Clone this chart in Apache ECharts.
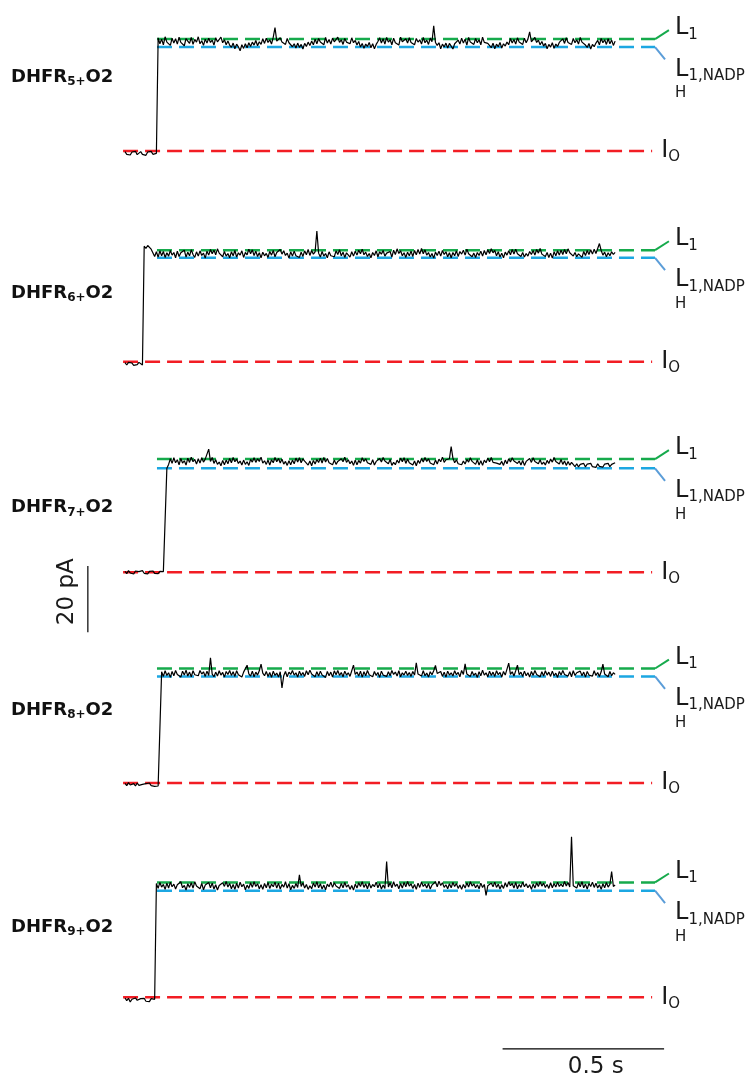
<!DOCTYPE html>
<html><head><meta charset="utf-8">
<script src="https://cdn.jsdelivr.net/npm/echarts@6/dist/echarts.min.js"></script>
<style>html,body{margin:0;padding:0;background:#fff}#c{width:749px;height:1078px}</style>
</head><body><div id="c"></div>
<script>
// ---------------- DATA ----------------
const panelNames = ['5', '6', '7', '8', '9'];          // DHFRn+O2
const sampleStep = 0.0054;                             // s between samples
// current traces (pA, relative to open-pore I0)
const trace5 = [-0.2,-1.0,-0.4,-1.2,-0.3,-0.9,-0.1,-1.1,-0.6,-0.2,-1.0,-0.5,-1.3,-0.3,-0.8,-0.1,-1.0,-0.4,-0.7,
 34.2,32.4,33.8,32.1,34.5,32.9,33.4,31.9,34.1,32.6, 33.9,32.3,34.4,32.8,33.1,31.8,34.0,33.2,32.5,34.3,
 32.2,33.7,32.9,34.5,32.4,33.3,31.9,33.8,32.6,34.1, 32.8,33.5,32.0,34.2,33.0,32.4,34.4,32.7,33.6,32.1,
 33.2,32.0,31.3,32.6,30.9,32.3,31.5,30.3,32.1,31.0, 32.4,31.2,32.7,31.6,32.9,32.0,33.4,31.8,33.0,32.2,
 33.9,32.5,34.1,32.8,33.6,32.3,34.4,37.3,33.2,32.6, 34.2,32.9,33.5,32.2,34.0,32.7,33.3,31.5,32.4,31.1,
 32.6,31.3,32.2,30.8,32.5,31.6,32.9,31.9,33.2,32.1, 33.8,32.4,34.0,32.9,33.3,32.1,34.3,32.6,33.7,32.3,
 34.1,33.0,32.5,34.4,32.8,33.6,32.2,34.0,32.9,33.5, 32.4,34.2,32.7,33.4,32.0,33.1,31.4,32.5,31.0,32.3,
 31.6,32.8,31.2,32.4,30.9,32.2,33.1,34.2,32.6,33.9, 32.3,34.3,32.9,33.6,32.1,34.1,32.7,33.3,32.0,34.4,
 33.0,32.4,33.9,32.6,34.2,32.8,33.4,32.1,34.0,32.9, 33.6,32.3,34.3,32.7,33.5,32.2,34.1,33.0,37.8,32.8,
 31.9,32.7,30.9,32.3,31.4,32.6,31.1,32.5,31.7,30.8, 32.4,31.9,33.5,32.3,34.1,32.6,33.8,32.0,34.3,32.9,
 33.4,32.2,34.0,32.7,33.6,32.1,34.4,32.8,33.3,32.5, 32.0,31.2,32.6,30.9,32.3,31.5,32.8,31.1,32.4,31.7,
 32.9,32.1,34.0,32.6,33.7,32.3,34.2,32.9,33.4,32.2, 34.1,32.7,33.8,36.0,33.0,32.4,34.3,32.8,33.5,32.1,
 33.1,31.7,32.5,30.9,32.2,31.4,32.7,31.0,32.3,31.6, 32.8,32.4,33.9,32.5,34.2,32.8,33.4,32.2,34.0,32.7,
 33.6,32.3,34.3,32.9,33.2,32.0,31.3,32.5,30.8,32.2, 31.5,32.6,33.4,32.1,34.0,32.7,33.6,32.2,33.9,32.4,
 33.5,31.9,33.2];
const trace6 = [-0.3,-1.0,-0.2,-0.8,-0.4,-1.1,-0.5,-0.9,-0.2,-0.7,-1.0,
 34.9,34.2,35.1,34.5,34.0,33.4,31.8,33.2,31.6,33.5, 32.0,33.3,31.5,32.9,31.9,33.6,32.2,33.0,31.4,33.4,
 31.8,32.9,32.3,33.7,31.6,33.1,32.0,33.8,32.4,31.5, 33.2,31.9,33.5,32.1,32.8,31.3,33.4,32.2,33.9,32.6,
 33.7,32.3,34.1,32.8,33.0,31.7,33.3,31.9,32.7,31.4, 33.2,32.0,33.6,31.6,32.9,32.2,33.5,31.5,33.0,32.3,
 34.0,32.6,33.8,32.1,33.4,31.8,32.9,31.4,33.1,32.0, 32.7,31.5,33.3,32.2,33.6,31.7,33.0,32.4,33.9,32.5,
 33.5,32.1,32.8,31.3,33.2,31.9,33.4,32.0,32.6,31.5, 33.1,31.8,33.5,32.3,33.9,32.1,33.6,32.5,33.2,39.5,
 32.8,31.6,33.3,31.9,32.7,31.4,33.2,32.0,32.6,31.7, 33.5,32.4,33.8,32.0,33.1,31.5,32.9,32.3,31.6,33.2,
 31.9,33.4,32.2,33.7,32.6,34.0,32.3,33.1,31.8,32.7, 31.4,33.0,32.1,33.5,31.7,33.2,32.5,33.6,31.9,32.8,
 32.2,33.3,31.6,33.7,32.4,34.1,32.7,33.5,32.0,32.9, 31.5,33.1,32.0,33.4,31.8,33.6,32.3,33.9,32.5,34.2,
 32.6,33.8,32.2,33.0,31.6,32.7,31.3,33.1,32.1,33.4, 31.9,33.6,32.4,33.2,31.7,32.9,31.4,33.0,32.0,33.5,
 31.8,33.3,32.5,33.7,32.2,34.0,32.6,33.1,31.7,32.8, 31.5,33.0,32.1,33.4,31.9,33.6,32.3,33.8,32.7,34.1,
 32.9,33.6,32.0,33.2,31.6,32.8,31.4,33.1,32.2,33.5, 32.3,33.9,32.5,34.0,32.6,33.2,31.8,33.0,31.6,32.7,
 31.9,33.3,32.4,33.6,32.2,33.9,32.8,34.2,32.5,33.1, 31.8,33.0,31.5,32.8,31.3,33.2,32.0,33.5,32.2,33.7,
 32.4,33.9,32.6,34.1,32.9,33.3,31.9,33.0,31.7,32.6, 32.2,31.5,33.3,32.1,33.6,32.4,33.8,32.5,34.0,32.7,
 34.2,35.7,33.6,32.2,33.1,31.7,32.9,32.0,33.2,32.4, 33.0];
const trace7 = [0.3,-0.4,0.5,-0.2,0.1,-0.5,0.4,-0.1,0.2,-0.4,0.5,-0.3,0.0,-0.5,0.3,-0.2,0.4,-0.3,0.1,-0.4,0.3,-0.1,0.2,-0.3,
 31.4,32.6,34.3,32.9,34.6,33.1,34.0,32.5,34.4,33.0, 33.7,32.4,34.5,33.2,34.8,33.4,34.1,32.7,34.3,33.0,
 34.6,33.3,34.2,33.6,37.2,33.5,34.7,32.9,34.0,32.6, 33.3,32.2,33.8,32.5,33.9,32.8,34.4,33.1,34.7,33.4,
 34.2,32.9,33.6,32.4,33.9,32.6,33.4,32.3,34.1,33.3, 34.6,33.2,34.3,33.5,34.8,33.0,33.7,32.6,33.9,32.4,
 34.0,33.1,34.7,33.4,34.4,33.0,34.2,32.7,33.5,32.3, 33.7,32.5,33.9,32.8,34.5,33.3,34.6,33.1,34.3,33.6,
 33.4,32.4,33.6,32.2,33.8,32.7,34.1,33.2,34.5,33.0, 34.7,33.3,34.4,33.1,33.7,32.5,33.9,32.6,33.5,32.9,
 34.3,33.4,34.8,33.2,34.0,32.8,33.6,32.3,33.9,32.5, 33.8,33.0,34.6,33.5,34.3,33.1,33.4,32.6,34.0,32.4,
 33.5,32.9,34.4,33.3,34.7,33.6,33.7,32.8,34.1,32.3, 33.2,32.5,33.9,33.0,34.5,33.4,34.6,32.9,34.2,33.1,
 33.3,32.4,33.6,32.2,33.8,32.9,34.4,33.3,34.7,33.5, 34.3,33.0,33.6,32.5,33.9,32.7,34.2,33.4,34.8,33.2,
 34.0,33.5,34.3,38.0,34.5,33.1,34.0,32.8,33.4,32.5, 33.6,32.7,34.1,33.3,34.6,33.5,33.9,32.6,34.0,32.4,
 33.7,32.3,33.9,33.1,34.5,33.4,34.7,33.2,33.8,33.0, 33.4,32.6,33.5,32.3,33.9,32.8,34.3,33.3,34.6,33.6,
 33.9,32.9,33.6,32.4,33.8,32.3,33.5,33.0,34.4,33.2, 34.6,33.5,33.7,32.8,34.0,32.6,33.3,32.4,33.8,32.9,
 34.2,33.3,34.7,33.5,33.9,32.7,34.1,32.6,33.6,32.3, 33.5,32.4,33.2,32.7,31.9,32.8,31.8,32.6,32.0,32.9,
 31.8,32.7,32.1,32.9,31.9,32.5,31.7,32.8,32.0,32.6, 31.8,32.7,32.2,32.9,31.9,32.6,32.1,33.1];
const trace8 = [-0.1,-0.8,0.1,-0.6,-1.0,-0.2,-0.9,0.0,-0.7,-1.2,-0.4,-0.9,-0.2,-0.7,0.0,-0.8,-0.3,-1.0,-0.5,-0.9,-0.3,
 33.6,32.2,33.9,32.5,33.3,31.9,33.7,32.4,34.0,32.8, 33.4,32.0,33.8,32.6,34.1,32.3,33.5,32.1,33.9,32.7,
 33.2,32.4,34.0,32.9,33.6,32.2,33.8,32.5,37.8,32.9, 32.1,33.5,32.3,33.9,32.6,33.4,32.0,33.7,32.8,34.0,
 32.5,33.6,32.2,33.9,32.7,33.3,32.0,33.5,34.1,35.6, 33.0,32.3,33.8,32.1,33.5,32.6,33.9,35.9,33.2,32.4,
 33.7,32.2,33.4,31.9,33.8,32.5,33.2,32.0,33.6,28.7, 32.4,33.7,32.1,33.5,32.8,34.0,32.6,33.3,32.0,33.8,
 32.5,33.4,32.2,33.9,32.7,34.1,32.9,33.3,32.1,33.6, 32.3,33.8,32.6,33.2,31.9,33.7,32.4,33.5,32.0,33.9,
 32.7,34.0,32.5,33.4,32.1,33.8,32.6,33.3,32.2,33.9, 35.6,32.8,33.5,32.3,33.8,32.0,33.6,32.4,34.0,32.7,
 33.3,32.1,33.7,32.5,33.4,31.9,33.8,32.6,33.2,32.2, 33.6,32.4,34.0,32.8,33.5,32.3,33.9,32.1,33.3,32.6,
 33.8,32.5,33.4,32.2,33.7,32.6,36.3,32.9,33.5,32.3, 33.9,32.4,33.2,32.0,33.6,32.7,33.9,35.5,33.1,32.5,
 33.7,32.2,33.5,32.0,33.8,32.6,33.3,32.3,33.9,32.7, 33.4,32.1,34.0,32.8,36.0,32.9,33.5,32.2,33.7,32.5,
 33.2,31.9,33.6,32.4,34.1,32.6,33.3,32.1,33.8,32.5, 33.5,32.2,33.9,32.7,33.4,32.0,33.7,32.6,33.2,36.2,
 32.8,33.6,32.3,33.9,35.6,32.7,33.5,32.2,33.8,32.4, 33.3,32.0,33.7,32.5,34.0,32.8,33.4,32.1,33.6,32.3,
 33.9,32.6,33.5,32.2,33.8,32.4,33.2,31.9,33.7,32.6, 34.0,32.8,33.4,32.3,33.6,32.1,33.9,32.5,33.3,32.7,
 33.8,32.4,33.5,32.0,33.7,32.6,33.2,32.3,33.9,32.5, 33.4,32.2,33.6,35.9,32.9,33.5,32.1,33.7,32.4,33.3,
 32.8];
const trace9 = [-0.2,-1.0,-0.3,-1.4,-0.6,-1.1,-0.2,-0.9,-1.5,-0.4,-1.0,-0.3,-1.2,-0.7,-1.3,-0.4,-0.9,-0.6,
 34.4,32.9,34.7,33.3,34.1,32.6,34.5,33.0,34.8,33.4, 34.2,32.7,34.0,33.5,34.9,33.1,33.8,32.4,34.3,33.2,
 34.6,33.0,34.9,33.6,34.2,32.8,34.4,32.5,33.9,33.3, 34.7,33.1,34.5,32.7,34.0,32.4,33.8,33.2,34.6,33.5,
 35.0,33.3,34.4,32.8,34.1,32.6,34.5,33.0,34.8,33.4, 34.2,32.5,33.9,32.9,34.6,33.2,34.9,33.5,34.3,32.8,
 34.0,32.6,34.4,33.1,34.7,32.9,34.2,33.4,34.8,33.0, 34.5,32.7,34.1,33.3,34.9,33.0,34.3,32.5,33.8,32.9,
 34.4,33.2,37.0,33.5,34.6,33.0,34.1,32.6,33.7,32.8, 34.5,33.3,34.9,33.1,34.3,32.7,33.9,32.5,34.2,33.4,
 34.8,33.2,34.6,33.6,34.1,32.9,34.4,33.1,34.7,33.3, 34.0,32.6,33.8,32.4,34.2,33.0,34.6,33.5,34.9,33.2,
 34.3,32.8,34.5,33.0,34.1,33.4,34.8,33.1,34.4,32.7, 33.9,32.9,41.0,33.3,34.6,33.1,34.9,33.5,34.2,32.8,
 34.4,33.0,34.7,33.4,35.0,33.6,34.3,32.9,34.1,32.6, 34.5,33.2,34.8,33.5,34.2,33.0,34.4,32.7,33.9,33.3,
 34.9,33.4,35.1,33.8,34.6,33.2,34.0,32.8,34.3,33.1, 34.7,33.5,34.4,32.9,33.9,32.6,34.1,33.0,34.6,33.3,
 34.9,33.6,34.3,33.1,34.0,32.8,34.5,33.2,34.1,30.8, 33.7,33.1,34.5,33.4,34.8,33.2,34.2,32.7,34.0,32.9,
 34.6,33.3,34.9,33.7,34.4,33.0,34.7,32.8,34.1,33.2, 34.8,33.4,34.3,33.1,34.0,32.6,34.2,33.0,34.6,33.5,
 34.9,33.6,34.5,33.2,34.1,32.9,34.6,33.1,34.4,33.3, 34.8,33.5,34.2,33.4,35.0,33.6,34.7,33.3,48.5,33.7,
 34.3,33.0,34.6,33.4,34.9,33.1,34.2,32.7,34.4,33.5, 34.8,33.2,34.5,33.0,34.0,32.6,34.3,33.1,34.7,33.3,
 34.1,38.0,33.5,33.9];
const traces = [trace5, trace6, trace7, trace8, trace9];

// conductance levels (pA above I0) for each panel
const levelL1    = [33.8, 33.7, 34.2, 34.6, 34.7];
const levelNADPH = [31.4, 31.4, 31.4, 32.2, 32.2];
const levelI0 = 0;
const levelSpanT = [0.099, 1.641];     // L1 / L1,NADPH guide lines (s)
const i0SpanT = [-0.006, 1.632];       // I0 guide line (s)
const tagEndT = [1.684, 1.672];        // end of label connectors (L1, L1,NADPH)
const tagShift = [2.7, -3.75];         // connector rise (pA)
// scale bars
const barPA = 20, barS = 0.5;
const barPAPos = {t: -0.115, from: -18.1};   // in panel 3
const barSPos = {t0: 1.169, y: -15.6};       // in panel 5

// ---------------- LAYOUT ----------------
const FONT = 'DejaVu Sans';
const pxPerS = 323, pxPerPA = 3.31, originX = 125;
const xMin = -0.35, xMax = 1.9, yMin = -20, yMax = 45;
const redPx = [151, 361.7, 572.3, 783, 997.3];
const labelCenterY = [77, 293, 507.7, 710, 927];
const GREEN = '#16aa4c', BLUE = '#1ca7e2', BLUE2 = '#5b9dd8', RED = '#f21d24', TXT = '#1a1a1a';

const grids = [], xAxes = [], yAxes = [], series = [], titles = [];
const tagRich = {
  m: {fontSize: 24, lineHeight: 28, fontFamily: FONT, color: TXT},
  s: {fontSize: 15, lineHeight: 21, fontFamily: FONT, color: TXT, verticalAlign: 'bottom'},
  s2: {fontSize: 15, lineHeight: 20, fontFamily: FONT, color: TXT},
  o: {fontSize: 15, lineHeight: 10, fontFamily: FONT, color: TXT, verticalAlign: 'bottom'}
};
panelNames.forEach((n, p) => {
  grids.push({left: originX + xMin * pxPerS, width: (xMax - xMin) * pxPerS,
              top: redPx[p] - yMax * pxPerPA, height: (yMax - yMin) * pxPerPA});
  xAxes.push({type: 'value', gridIndex: p, min: xMin, max: xMax, show: false});
  yAxes.push({type: 'value', gridIndex: p, min: yMin, max: yMax, show: false});
  const ax = {xAxisIndex: p, yAxisIndex: p, showSymbol: false, silent: true, animation: false, clip: false};
  // L1 level
  series.push(Object.assign({type: 'line', z: 2,
    data: [[levelSpanT[0], levelL1[p]], [levelSpanT[1], levelL1[p]]],
    lineStyle: {color: GREEN, width: 2.5, type: [15, 7]}}, ax));
  series.push(Object.assign({type: 'line', z: 2,
    data: [[levelSpanT[1], levelL1[p]], [tagEndT[0], levelL1[p] + tagShift[0]]],
    lineStyle: {color: GREEN, width: 2},
    endLabel: {show: true, formatter: '{m|L}{s|1}', rich: tagRich, distance: 6, offset: [0, -2]}}, ax));
  // L1,NADPH level
  series.push(Object.assign({type: 'line', z: 2,
    data: [[levelSpanT[0], levelNADPH[p]], [levelSpanT[1], levelNADPH[p]]],
    lineStyle: {color: BLUE, width: 2.5, type: [15, 7]}}, ax));
  series.push(Object.assign({type: 'line', z: 2,
    data: [[levelSpanT[1], levelNADPH[p]], [tagEndT[1], levelNADPH[p] + tagShift[1]]],
    lineStyle: {color: BLUE2, width: 2},
    endLabel: {show: true, formatter: '{m|L}{s|1,NADP}\n{s2|H}', rich: tagRich,
               distance: 10, verticalAlign: 'top', offset: [0, -4]}}, ax));
  // I0 level
  series.push(Object.assign({type: 'line', z: 2,
    data: [[i0SpanT[0], levelI0], [i0SpanT[1], levelI0]],
    lineStyle: {color: RED, width: 2.5, type: [15, 7]},
    endLabel: {show: true, formatter: '{m|I}{o|O}', rich: tagRich, distance: 9, offset: [0, 0]}}, ax));
  // current trace (drawn on top of the guide lines)
  series.push(Object.assign({type: 'line', z: 4,
    data: traces[p].map((v, i) => [i * sampleStep, v]),
    lineStyle: {color: '#000', width: 1.2}}, ax));
  titles.push({text: '{m|DHFR}{s|' + n + '+}{m|O2}', left: 11, top: labelCenterY[p] - 11, padding: 0,
    textStyle: {rich: {
      m: {fontSize: 18, fontWeight: 'bold', fontFamily: FONT, color: '#111', lineHeight: 22},
      s: {fontSize: 12, fontWeight: 'bold', fontFamily: FONT, color: '#111', lineHeight: 8, verticalAlign: 'bottom'}}}});
});
// scale bars
series.push({type: 'line', xAxisIndex: 2, yAxisIndex: 2, showSymbol: false, silent: true, clip: false, z: 4,
  data: [[barPAPos.t, barPAPos.from], [barPAPos.t, barPAPos.from + barPA]],
  lineStyle: {color: '#000', width: 1.2}});
series.push({type: 'line', xAxisIndex: 4, yAxisIndex: 4, showSymbol: false, silent: true, clip: false, z: 4,
  data: [[barSPos.t0, barSPos.y], [barSPos.t0 + barS, barSPos.y]],
  lineStyle: {color: '#000', width: 1.2}});

const chart = echarts.init(document.getElementById('c'), null, {renderer: 'canvas'});
chart.setOption({
  animation: false,
  backgroundColor: '#fff',
  title: titles,
  grid: grids, xAxis: xAxes, yAxis: yAxes, series: series,
  graphic: [
    {type: 'text', x: 67.3, y: 591.7, rotation: Math.PI / 2,
     style: {text: barPA + ' pA', font: '23px "DejaVu Sans"', fill: TXT, align: 'center', verticalAlign: 'middle'}},
    {type: 'text', x: 595.7, y: 1066.7,
     style: {text: barS + ' s', font: '23px "DejaVu Sans"', fill: TXT, align: 'center', verticalAlign: 'middle'}}
  ]
});
</script></body></html>
